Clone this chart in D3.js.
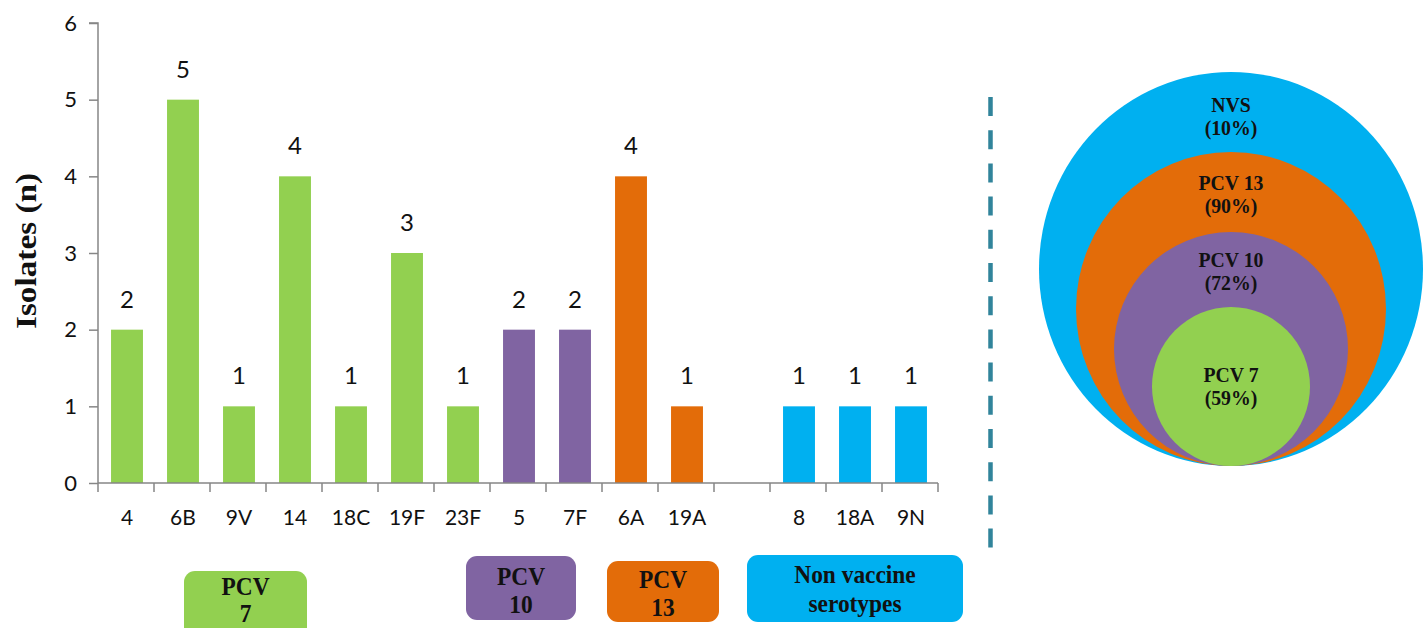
<!DOCTYPE html>
<html>
<head>
<meta charset="utf-8">
<script src="https://cdn.jsdelivr.net/npm/d3@7"></script>
<style>
  html, body { margin: 0; padding: 0; background: #ffffff; }
  svg { display: block; }
</style>
</head>
<body>
<svg id="chart" width="1427" height="628"></svg>
<script>
// ---------- DATA ----------
const categories = ["4", "6B", "9V", "14", "18C", "19F", "23F", "5", "7F", "6A", "19A", "", "8", "18A", "9N"];
const isolates   = [2, 5, 1, 4, 1, 3, 1, 2, 2, 4, 1, null, 1, 1, 1];
const groups     = ["PCV7", "PCV7", "PCV7", "PCV7", "PCV7", "PCV7", "PCV7", "PCV10", "PCV10", "PCV13", "PCV13", "", "NVS", "NVS", "NVS"];
const yTicks     = [0, 1, 2, 3, 4, 5, 6];
const yLabel     = "Isolates (n)";

const groupKeys    = ["PCV7", "PCV10", "PCV13", "NVS"];
const groupLegend  = [["PCV", "7"], ["PCV", "10"], ["PCV", "13"], ["Non vaccine", "serotypes"]];

const circleKeys   = ["NVS", "PCV13", "PCV10", "PCV7"];
const circleNames  = ["NVS", "PCV 13", "PCV 10", "PCV 7"];
const circlePcts   = [10, 90, 72, 59];

// ---------- STYLE ----------
const colors = { PCV7: "#92D050", PCV10: "#8064A2", PCV13: "#E36C09", NVS: "#00B0F0" };
const sans = "Lato, 'Open Sans', sans-serif";
const serif = "'Liberation Serif', 'DejaVu Serif', serif";

const svg = d3.select("#chart");

// ---------- BAR CHART ----------
const x0 = 98, x1 = 938, yTop = 23, yBot = 483;
const x = d3.scaleBand().domain(categories.map((c, i) => i)).range([x0, x1]).paddingInner(0.43).paddingOuter(0.215);
const xb = d3.scaleBand().domain(categories.map((c, i) => i)).range([x0, x1]);
const y = d3.scaleLinear().domain([0, 6]).range([yBot, yTop]);

const rows = categories.map((c, i) => ({ i, cat: c, v: isolates[i], g: groups[i] }));

// bars
svg.append("g").selectAll("rect")
  .data(rows.filter(d => d.v !== null))
  .join("rect")
  .attr("x", d => x(d.i) + 1)
  .attr("y", d => y(d.v))
  .attr("width", x.bandwidth())
  .attr("height", d => y(0) - y(d.v))
  .attr("fill", d => colors[d.g]);

// value labels
svg.append("g").selectAll("text")
  .data(rows.filter(d => d.v !== null))
  .join("text")
  .attr("x", d => x(d.i) + 1 + x.bandwidth() / 2)
  .attr("y", d => y(d.v) - 22)
  .attr("text-anchor", "middle")
  .attr("font-family", sans)
  .attr("font-size", 24)
  .attr("fill", "#111")
  .text(d => d.v);

// y axis
const yAxis = d3.axisLeft(y).tickValues(yTicks).tickSize(9).tickPadding(12).tickFormat(d3.format("d"));
const gy = svg.append("g").attr("transform", `translate(${x0},0)`).call(yAxis);
gy.select(".domain").attr("stroke", "#868686").attr("stroke-width", 1.5).attr("d", `M-9,${yTop}H0V${yBot}`);
gy.selectAll(".tick line").attr("stroke", "#868686").attr("stroke-width", 1.5);
gy.selectAll(".tick text").attr("font-family", sans).attr("font-size", 22).attr("fill", "#111");

// x axis (ticks at category boundaries)
const gx = svg.append("g").attr("transform", `translate(0,${yBot})`);
gx.append("line").attr("x1", x0).attr("x2", x1).attr("y1", 0).attr("y2", 0)
  .attr("stroke", "#868686").attr("stroke-width", 1.5);
const bounds = categories.map((c, i) => xb(i)).concat([x1]);
gx.selectAll("line.tk").data(bounds).join("line").attr("class", "tk")
  .attr("x1", d => d).attr("x2", d => d).attr("y1", 0).attr("y2", 9)
  .attr("stroke", "#868686").attr("stroke-width", 1.5);
gx.selectAll("text").data(rows).join("text")
  .attr("x", d => xb(d.i) + xb.bandwidth() / 2 + 1)
  .attr("y", 42)
  .attr("text-anchor", "middle")
  .attr("font-family", sans)
  .attr("font-size", 21)
  .attr("fill", "#111")
  .text(d => d.cat);

// y label
svg.append("text")
  .attr("transform", "translate(36,251) rotate(-90)")
  .attr("text-anchor", "middle")
  .attr("font-family", serif)
  .attr("font-weight", "bold")
  .attr("font-size", 29)
  .attr("textLength", 156)
  .attr("lengthAdjust", "spacingAndGlyphs")
  .attr("fill", "#111")
  .text(yLabel);

// condensed bold serif text helper
function condensed(sel, cx, cy, str, size, sx) {
  sel.append("g").attr("transform", `translate(${cx},${cy}) scale(${sx},1)`)
    .append("text")
    .attr("text-anchor", "middle")
    .attr("font-family", serif)
    .attr("font-weight", "bold")
    .attr("font-size", size)
    .attr("fill", "#111")
    .text(str);
}

// group legend boxes below
const legendBoxes = [
  { x: 184, y: 571, w: 123, h: 70, t: 595, s: 27 },
  { x: 466, y: 556, w: 110, h: 64, t: 585, s: 28 },
  { x: 607, y: 561, w: 112, h: 61, t: 588, s: 28 },
  { x: 747, y: 555, w: 216, h: 67, t: 583, s: 29 }
];
const lg = svg.append("g");
groupKeys.forEach((k, i) => {
  const b = legendBoxes[i];
  const g = lg.append("g");
  g.append("rect").attr("x", b.x).attr("y", b.y).attr("width", b.w).attr("height", b.h)
    .attr("rx", 11).attr("fill", colors[k]);
  groupLegend[i].forEach((line, j) => {
    condensed(g, b.x + b.w / 2, b.t + j * b.s, line, 26, 0.9);
  });
});

// ---------- DIVIDER ----------
svg.append("line")
  .attr("x1", 990.5).attr("x2", 990.5).attr("y1", 97).attr("y2", 548)
  .attr("stroke", "#31849B").attr("stroke-width", 4.5)
  .attr("stroke-dasharray", "19 14.2");

// ---------- NESTED CIRCLES ----------
const cx = 1231, cBottom = 466;
const radii = { NVS: [192, 197], PCV13: [155, 157], PCV10: [117, 117], PCV7: [79, 79.5] };
const labelY = { NVS: 112, PCV13: 190, PCV10: 267, PCV7: 382 };
const cg = svg.append("g");
circleKeys.forEach((k, i) => {
  const [rx, ry] = radii[k];
  cg.append("ellipse").attr("cx", cx).attr("cy", cBottom - ry).attr("rx", rx).attr("ry", ry)
    .attr("fill", colors[k]);
});
circleKeys.forEach((k, i) => {
  condensed(cg, cx, labelY[k], circleNames[i], 22, 0.9);
  condensed(cg, cx, labelY[k] + 23, `(${circlePcts[i]}%)`, 22, 0.9);
});
</script>
</body>
</html>
